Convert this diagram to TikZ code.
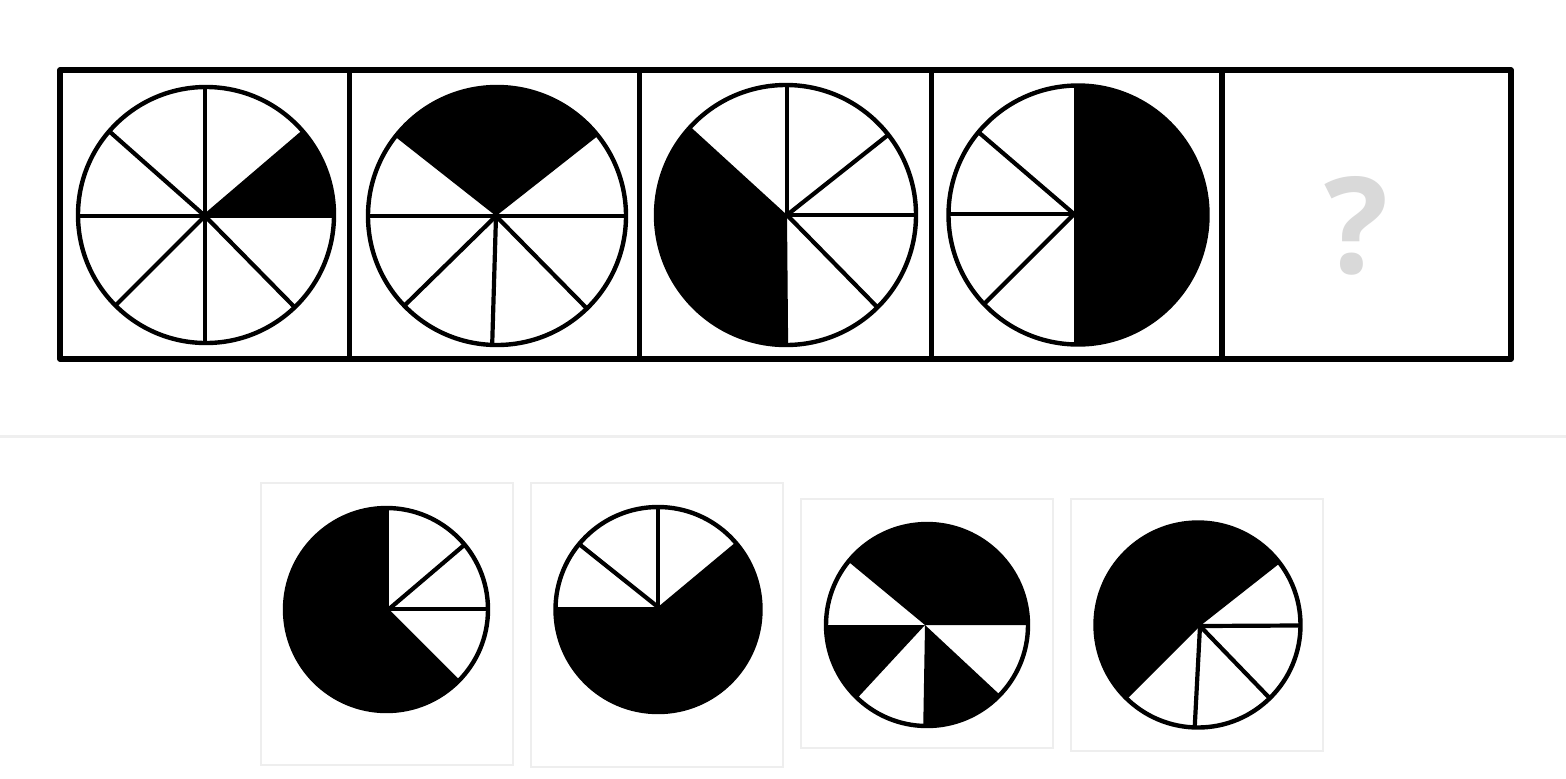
\documentclass[tikz,border=0pt]{standalone}
\usepackage{fontspec}
\newfontfamily\qfont{Open Sans}
\definecolor{qgray}{HTML}{D9D9D9}
\definecolor{sepgray}{HTML}{EFEFEF}
\definecolor{boxgray}{HTML}{EEEEEE}
\newcommand\mysector[3]{\fill (#1) -- ++(#2:260) arc[start angle=#2,end angle=#3,radius=260] -- cycle;}
\begin{document}
\begin{tikzpicture}[x=0.5pt,y=0.5pt,
  frame/.style={line width=2.8pt,line join=round,line cap=round},
  ring/.style={line width=2.2pt},
  spoke/.style={line width=2.1pt},
  optbox/.style={draw=boxgray,line width=1pt},
  qmark/.style={text=qgray,font=\qfont\bfseries\fontsize{67}{67}\selectfont,inner sep=0pt}]
\useasboundingbox (0,0) rectangle (1566,-778);
\fill[white] (0,0) rectangle (1566,-778);

% ---------- top frame ----------
\draw[frame] (60,-70) rectangle (1511,-359);
\foreach \x in {349.6,639.6,931.6,1221.7} \draw[frame] (\x,-70) -- (\x,-359);

% circle 1
\begin{scope}
  \clip (206,-215) circle[radius=128];
  \mysector{205,-216}{0}{40.5}
  \foreach \a in {0,40.5,90,138.5,180,225,270,314.5} \draw[spoke] (205,-216) -- ++(\a:260);
\end{scope}
\draw[ring] (206,-215) circle[radius=128];

% circle 2
\begin{scope}
  \clip (497,-216) circle[radius=129];
  \mysector{496,-216}{38.2}{141.8}
  \foreach \a in {0,180,224.4,268.3,314.5} \draw[spoke] (496,-216) -- ++(\a:260);
\end{scope}
\draw[ring] (497,-216) circle[radius=129];

% circle 3
\begin{scope}
  \clip (786,-215) circle[radius=130];
  \mysector{787,-215}{137.6}{270.5}
  \foreach \a in {0,38.4,90,314.4} \draw[spoke] (787,-215) -- ++(\a:260);
\end{scope}
\draw[ring] (786,-215) circle[radius=130];

% circle 4
\begin{scope}
  \clip (1078,-215) circle[radius=129.5];
  \fill (1074,-60) rectangle (1250,-370);
  \foreach \a in {139.4,180,225} \draw[spoke] (1074,-214) -- ++(\a:260);
\end{scope}
\draw[ring] (1078,-215) circle[radius=129.5];

% question mark
\node[qmark,anchor=base] (q) at (1356,-273) {?};

% ---------- separator ----------
\draw[sepgray,line width=1.5pt] (0,-436.5) -- (1566,-436.5);

% ---------- option boxes ----------
\draw[optbox] (261,-483) rectangle (513,-765);
\draw[optbox] (531,-483) rectangle (783,-767);
\draw[optbox] (801,-499) rectangle (1053,-748);
\draw[optbox] (1071,-499) rectangle (1323,-751);

% option 1
\begin{scope}
  \clip (386.5,-609.5) circle[radius=101.5];
  \fill (386.5,-609.5) circle[radius=110];
  \begin{scope}[fill=white]
    \mysector{389,-609}{-45}{90}
  \end{scope}
  \foreach \a in {0,40.4} \draw[spoke] (389,-609) -- ++(\a:260);
\end{scope}
\draw[ring] (386.5,-609.5) circle[radius=101.5];

% option 2
\begin{scope}
  \clip (658,-609.5) circle[radius=102.5];
  \mysector{658,-607}{180}{399.8}
  \foreach \a in {90,141.4} \draw[spoke] (658,-607) -- ++(\a:260);
\end{scope}
\draw[ring] (658,-609.5) circle[radius=102.5];

% option 3
\begin{scope}
  \clip (927,-625) circle[radius=101];
  \mysector{925,-625}{0}{140.4}
  \mysector{925,-625}{180}{227.2}
  \mysector{925,-625}{269}{317}
\end{scope}
\draw[ring] (927,-625) circle[radius=101];

% option 4
\begin{scope}
  \clip (1198,-625) circle[radius=102.5];
  \mysector{1200,-626}{38.2}{225}
  \foreach \a in {0.3,267,314} \draw[spoke] (1200,-626) -- ++(\a:260);
\end{scope}
\draw[ring] (1198,-625) circle[radius=102.5];
\end{tikzpicture}
\end{document}
